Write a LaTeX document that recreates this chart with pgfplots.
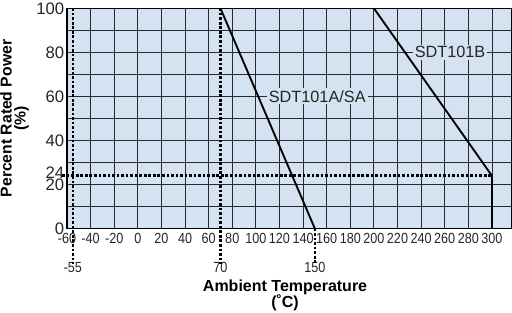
\documentclass[border=0pt]{standalone}
\usepackage{pgfplots}
\pgfplotsset{compat=1.18}
\usepackage{fontspec}
\setmainfont{Liberation Sans}
\definecolor{bgblue}{RGB}{213,226,241}
\definecolor{gridc}{RGB}{40,40,45}
\newcommand{\xl}[1]{\scalebox{0.86}[1]{#1}}
\begin{document}
\begin{tikzpicture}
\useasboundingbox (-50.25pt,-62.5pt) rectangle (333.75pt,171.5pt);
\begin{axis}[
  at={(0,0)}, anchor=south west,
  scale only axis, width=333.75pt, height=165.3pt,
  xmin=-60, xmax=317, ymin=0, ymax=100,
  clip=false,
  axis background/.style={fill=bgblue},
  axis line style={black, line width=0.8pt},
  xtick={-60,-40,...,300}, ytick={0,20,...,100},
  minor ytick={10,30,...,90},
  xmajorgrids, ymajorgrids, yminorgrids,
  grid style={gridc, line width=0.65pt},
  minor grid style={gridc, line width=0.65pt},
  major tick length=0pt, minor tick length=0pt,
  xticklabel={\xl{\pgfmathprintnumber[assume math mode=true]{\tick}}},
  xticklabel style={font=\fontsize{11}{12}\selectfont, text=black!85},
  yticklabel style={font=\fontsize{12.5}{13}\selectfont, text=black!85, inner sep=2pt},
  /pgf/number format/assume math mode=true,
  extra x ticks={-55,70,150},
  extra x tick style={grid=none, xticklabel style={yshift=-21.5pt}},
  extra y ticks={24},
  extra y tick style={grid=none, yticklabel style={yshift=2pt}},
  xlabel={Ambient Temperature\\(˚C)},
  xlabel style={at={(axis description cs:0.49,0)}, anchor=north, yshift=-38pt, align=center, inner sep=0pt, font=\bfseries\fontsize{12}{12.5}\selectfont},
  ylabel={Percent Rated Power\\(\%)},
  ylabel style={align=center, font=\bfseries\fontsize{11.8}{10.5}\selectfont},
]
\addplot[black, line width=2pt, dash pattern=on 2pt off 1.4pt] coordinates {(-55,100) (-55,-16)};
\addplot[black, line width=2pt, dash pattern=on 2pt off 1.4pt] coordinates {(70,100) (70,-16)};
\addplot[black, line width=2pt, dash pattern=on 2pt off 1.4pt] coordinates {(150,0) (150,-16)};
\addplot[black, line width=2pt, dash pattern=on 2pt off 1.4pt] coordinates {(-64,24) (300,24)};
\addplot[black, line width=1.4pt] coordinates {(70,100) (150,0)};
\addplot[black, line width=1.4pt] coordinates {(200,100) (300,24) (300,0)};
\node[fill=bgblue, inner sep=1.5pt, text=black!85, font=\fontsize{12.2}{13}\selectfont] at (axis cs:152,60) {SDT101A/SA};
\node[fill=bgblue, inner sep=1.5pt, text=black!85, font=\fontsize{12.2}{13}\selectfont] at (axis cs:264.5,80) {SDT101B};
\end{axis}
\end{tikzpicture}
\end{document}
